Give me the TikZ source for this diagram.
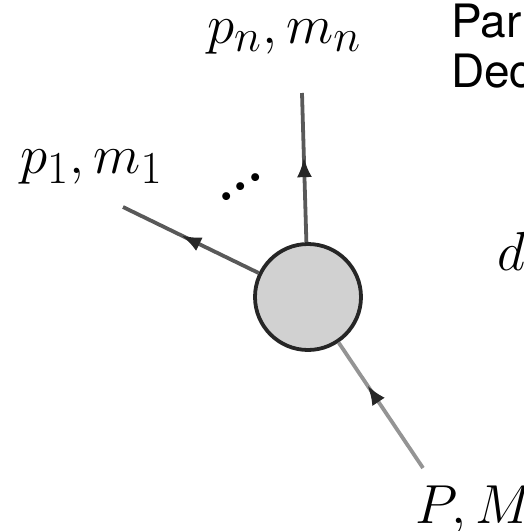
\documentclass[tikz,border=0pt]{standalone}
\usepackage{fontspec}
\usepackage{graphicx}
\newfontfamily\hel{TeX Gyre Heros}
\usetikzlibrary{arrows.meta,decorations.markings}
\newcommand{\mylabeltext}[1]{\scalebox{2.21}{\Huge #1}}
\tikzset{
  leg/.style={line width=3.8pt, draw=black!65},
  legin/.style={line width=3.8pt, draw=black!42},
  midarrow/.style={postaction={decorate},decoration={markings,
     mark=at position #1 with {\arrow[black!85]{Latex[length=20pt,width=15pt]}}}},
  lbl/.style={inner sep=0pt, anchor=base west},
  side/.style={inner sep=0pt, anchor=base west, font=\hel\fontsize{46}{50}\selectfont},
  blob/.style={circle, minimum size=106pt, inner sep=0pt, fill=black!18, draw=black!85, line width=3.8pt}
}
\begin{document}
\begin{tikzpicture}[x=1pt,y=-1pt]
\useasboundingbox (0,0) rectangle (523,531);
\clip (0,0) rectangle (523,531);
\node[blob] (c) at (308,297) {};
\coordinate (en) at (302,93);
\coordinate (e1) at (123,207);
\coordinate (ein) at (423,468);
\draw[leg, midarrow=0.57] (c) -- (en);
\draw[leg, midarrow=0.57] (c) -- (e1);
\draw[legin, midarrow=0.66] (ein) -- (c);
\node[lbl] (ln) at (207,43) {\mylabeltext{$p_n, m_n$}};
\node[lbl] (l1) at (20,173) {\mylabeltext{$p_1, m_1$}};
\node[lbl] (lin) at (415,523) {\mylabeltext{$P, M$}};
\node[lbl] (ld) at (497,270) {\mylabeltext{$d$}};
\node[inner sep=0pt, rotate=32] (dots) at (241,187) {\scalebox{2.21}{\Huge\bfseries ...}};
\node[side] (t1) at (451,37) {Par};
\node[side] (t2) at (451,87) {Dec};
\end{tikzpicture}
\end{document}
